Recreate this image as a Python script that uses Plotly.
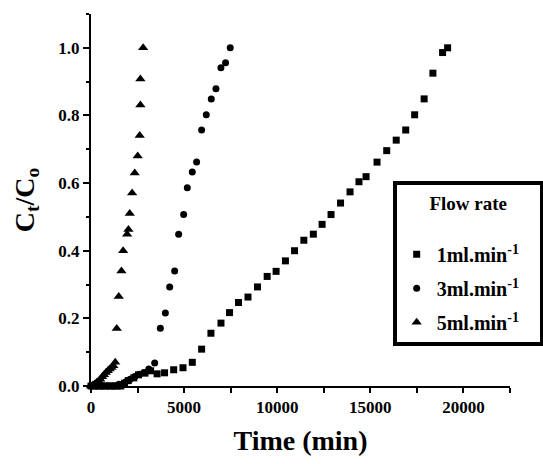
import plotly.graph_objects as go

# 1 ml/min (squares)
t_1ml = [0, 200, 400, 600, 800, 1000, 1200, 1400, 1600, 1800, 2000, 2300, 2550, 2900, 3200,
         3550, 3950, 4440, 4940, 5440, 5940, 6440, 6980, 7440, 7920, 8430, 8940, 9460, 9940,
         10440, 10930, 11430, 11940, 12410, 12890, 13400, 13910, 14390, 14770, 15360, 15880,
         16390, 16900, 17380, 17890, 18360, 18880, 19150]
c_1ml = [0, 0, 0, 0, 0, 0, 0, 0, 0, 0.008, 0.016, 0.024, 0.033, 0.038, 0.045,
         0.036, 0.039, 0.048, 0.054, 0.07, 0.109, 0.156, 0.186, 0.217, 0.247, 0.263, 0.293, 0.324, 0.339,
         0.37, 0.40, 0.431, 0.449, 0.478, 0.507, 0.541, 0.574, 0.604, 0.619, 0.662, 0.696,
         0.727, 0.757, 0.802, 0.849, 0.925, 0.986, 1.0]

# 3 ml/min (circles)
t_3ml = [0, 300, 600, 900, 1200, 1500, 1850, 2100, 2350, 2600, 2850, 3100, 3420, 3725, 3993,
         4225, 4493, 4706, 4975, 5172, 5440, 5671, 5940, 6190, 6459, 6710, 6977, 7226, 7477]
c_3ml = [0, 0, 0, 0, 0, 0.005, 0.012, 0.02, 0.028, 0.035, 0.04, 0.05, 0.068, 0.171, 0.216,
         0.293, 0.34, 0.449, 0.507, 0.586, 0.633, 0.662, 0.757, 0.802, 0.849, 0.879, 0.941, 0.956, 1.0]

# 5 ml/min (triangles)
t_5ml = [0, 100, 200, 300, 400, 500, 600, 700, 800, 900, 1000, 1100, 1200, 1300, 1383, 1490,
         1635, 1726, 1940, 2010, 2080, 2208, 2348, 2508, 2616, 2653, 2653, 2800]
c_5ml = [0, 0.003, 0.006, 0.01, 0.015, 0.02, 0.027, 0.033, 0.04, 0.045, 0.05, 0.055, 0.06, 0.07,
         0.17, 0.265, 0.34, 0.40, 0.449, 0.463, 0.51, 0.571, 0.63, 0.68, 0.741, 0.831, 0.908, 1.0]

series_names = ["1ml.min<sup>-1</sup>", "3ml.min<sup>-1</sup>", "5ml.min<sup>-1</sup>"]
x_tickvals = [0, 5000, 10000, 15000, 20000]
x_ticktext = ["0", "5000", "10000", "15000", "20000"]
y_tickvals = [0.0, 0.2, 0.4, 0.6, 0.8, 1.0]
y_ticktext = ["0.0", "0.2", "0.4", "0.6", "0.8", "1.0"]

FONT = "Liberation Serif, Times New Roman, serif"
PAD = "&nbsp;" * 3  # widens the legend box to match the reference

fig = go.Figure()
fig.add_trace(go.Scatter(x=t_1ml, y=c_1ml, mode="markers", name=series_names[0] + PAD, legendgroup="a",
                         marker=dict(symbol="square", size=7, color="black"), cliponaxis=False))
fig.add_trace(go.Scatter(x=t_3ml, y=c_3ml, mode="markers", name=series_names[1] + PAD, legendgroup="b",
                         marker=dict(symbol="circle", size=7, color="black"), cliponaxis=False))
fig.add_trace(go.Scatter(x=t_5ml, y=c_5ml, mode="markers", name=series_names[2] + PAD, legendgroup="c",
                         marker=dict(symbol="triangle-up", size=9, color="black"), cliponaxis=False))

fig.update_layout(
    width=543, height=464,
    margin=dict(l=91, r=33, t=14, b=78, autoexpand=False),
    paper_bgcolor="white", plot_bgcolor="white",
    font=dict(family=FONT, color="black"),
    showlegend=True,
    legend=dict(
        x=0.72, y=0.55, xanchor="left", yanchor="top",
        bordercolor="black", borderwidth=4, bgcolor="white",
        font=dict(family=FONT, size=20, color="black", weight="bold"),
        title=dict(text="<b>Flow rate</b><br> ", side="top center",
                   font=dict(family=FONT, size=19, color="black")),
        itemsizing="trace", tracegroupgap=5,
    ),
    xaxis=dict(
        range=[0, 22500], showgrid=False, zeroline=False,
        showline=True, linecolor="black", linewidth=2,
        ticks="outside", ticklen=5, tickwidth=2, tickcolor="black",
        tickvals=x_tickvals, ticktext=x_ticktext,
        tickfont=dict(family=FONT, size=17, color="black", weight="bold"),
        minor=dict(dtick=2500, ticks="outside", ticklen=5, tickwidth=2, tickcolor="black"),
        title=dict(text="<b>Time (min)</b>", font=dict(family=FONT, size=28, color="black"),
                   standoff=14),
    ),
    yaxis=dict(
        range=[0, 1.1], showgrid=False, zeroline=False,
        showline=True, linecolor="black", linewidth=2,
        ticks="outside", ticklen=6, tickwidth=2, tickcolor="black",
        tickvals=y_tickvals, ticktext=y_ticktext,
        tickfont=dict(family=FONT, size=17, color="black", weight="bold"),
        minor=dict(dtick=0.1, ticks="outside", ticklen=3, tickwidth=2, tickcolor="black"),
        title=dict(text="<b>C<sub>t</sub>/C<sub>o</sub></b>", font=dict(family=FONT, size=28, color="black"),
                   standoff=16),
    ),
)

fig.write_html("out.html")
